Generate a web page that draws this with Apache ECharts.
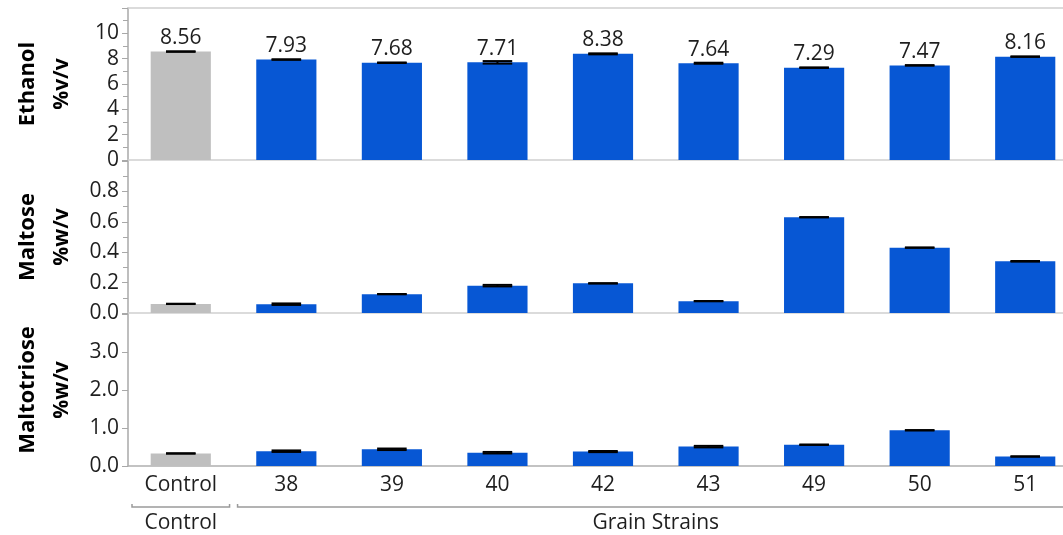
<!DOCTYPE html>
<html>
<head>
<meta charset="utf-8">
<script src="https://cdn.jsdelivr.net/npm/echarts@6/dist/echarts.min.js"></script>
<style>
  html, body { margin: 0; padding: 0; background: #fff; overflow: hidden; }
  #chart { width: 1063px; height: 535px; }
</style>
</head>
<body>
<div id="chart"></div>
<script>
// Fermentation results per strain: mean and spread for three analytes
const categories = ['Control', '38', '39', '40', '42', '43', '49', '50', '51'];

const ethanol = [8.56, 7.93, 7.68, 7.71, 8.38, 7.64, 7.29, 7.47, 8.16];
const ethanolErr = [0.02, 0.02, 0.02, 0.10, 0.04, 0.04, 0.02, 0.02, 0.02];

const maltose = [0.06, 0.058, 0.124, 0.18, 0.195, 0.078, 0.63, 0.43, 0.34];
const maltoseErr = [0.001, 0.005, 0.001, 0.005, 0.001, 0.001, 0.001, 0.001, 0.002];

const maltotriose = [0.33, 0.39, 0.44, 0.35, 0.38, 0.51, 0.56, 0.94, 0.25];
const maltotrioseErr = [0.005, 0.02, 0.02, 0.02, 0.015, 0.02, 0.005, 0.005, 0.005];

// Grouping shown beneath the category axis
const groupLabels = ['Control', 'Grain Strains'];
const groupSpans = [[0, 0], [1, 8]];

const GRAY = '#bfbfbf';
const BLUE = '#0757d4';
const TEXT = '#1e1e1e';
const FONT = '"Open Sans", "Noto Sans", sans-serif';

const chart = echarts.init(document.getElementById('chart'), null, { renderer: 'canvas' });

// Panels are wider than the canvas; the last band runs past the right edge
const gridTops = [8, 161, 314];
const gridHeight = 152;
const grids = gridTops.map(t => ({
  left: 128, width: 950, top: t, height: gridHeight,
  outerBoundsMode: 'none', containLabel: false
}));

function xAxisFor(i) {
  return {
    type: 'category',
    gridIndex: i,
    data: categories,
    axisLine: { lineStyle: { color: i === 2 ? '#b0b0b0' : '#d0d0d0', width: 1.5 } },
    axisTick: { show: false },
    axisLabel: {
      show: i === 2,
      color: TEXT,
      fontFamily: FONT,
      fontSize: 21,
      margin: 9
    }
  };
}

function yAxisFor(i, max, interval, minor, nameA, nameB, decimals) {
  return {
    type: 'value',
    gridIndex: i,
    min: 0,
    max: max,
    interval: interval,
    name: '{a|' + nameA + '}\n{b|' + nameB + '}',
    nameLocation: 'middle',
    nameRotate: 90,
    nameGap: 49,
    nameTextStyle: {
      color: '#000',
      fontFamily: FONT,
      rich: {
        a: { fontSize: 22, fontWeight: 'bold', lineHeight: 34, fontFamily: FONT, color: '#000' },
        b: { fontSize: 21, fontWeight: 'bold', lineHeight: 34, fontFamily: FONT, color: '#000' }
      }
    },
    axisLine: { show: true, lineStyle: { color: '#a8a8a8', width: 1.5 } },
    axisTick: { show: true, length: 6, lineStyle: { color: '#a8a8a8' } },
    minorTick: { show: minor, splitNumber: 2, length: 5, lineStyle: { color: '#a8a8a8' } },
    splitLine: { show: false },
    axisLabel: {
      color: TEXT,
      fontFamily: FONT,
      fontSize: 21,
      margin: 9,
      formatter: v => (Math.abs(v - max) < 1e-9 ? '' : v.toFixed(decimals))
    }
  };
}

function barSeries(i, values, withLabels) {
  return {
    type: 'bar',
    xAxisIndex: i,
    yAxisIndex: i,
    barWidth: '57%',
    data: values.map((v, k) => ({
      value: v,
      itemStyle: { color: k === 0 ? GRAY : BLUE }
    })),
    label: withLabels ? {
      show: true,
      position: 'top',
      distance: 3,
      color: TEXT,
      fontFamily: FONT,
      fontSize: 21,
      formatter: p => p.value.toFixed(2)
    } : { show: false },
    z: 2
  };
}

function errorSeries(i, values, errs) {
  return {
    type: 'custom',
    xAxisIndex: i,
    yAxisIndex: i,
    data: values.map((v, k) => [k, v - errs[k], v + errs[k]]),
    renderItem: function (params, api) {
      const x = api.value(0);
      const lo = api.coord([x, api.value(1)]);
      const hi = api.coord([x, api.value(2)]);
      const half = api.size([1, 0])[0] * 0.14;
      const style = { stroke: '#000', lineWidth: 2 };
      return {
        type: 'group',
        children: [
          { type: 'line', shape: { x1: lo[0], y1: lo[1], x2: hi[0], y2: hi[1] }, style: style },
          { type: 'line', shape: { x1: hi[0] - half, y1: hi[1], x2: hi[0] + half, y2: hi[1] }, style: style },
          { type: 'line', shape: { x1: lo[0] - half, y1: lo[1], x2: lo[0] + half, y2: lo[1] }, style: style }
        ]
      };
    },
    z: 3
  };
}

const option = {
  animation: false,
  backgroundColor: '#fff',
  grid: grids,
  xAxis: [
    xAxisFor(0), xAxisFor(1), xAxisFor(2),
    // top frame line of the first panel
    {
      type: 'category', gridIndex: 0, position: 'top', data: categories,
      axisLine: { lineStyle: { color: '#d0d0d0', width: 1.5 } },
      axisTick: { show: false }, axisLabel: { show: false }
    }
  ],
  yAxis: [
    yAxisFor(0, 12, 2, true, 'Ethanol', '%v/v', 0),
    yAxisFor(1, 1.0, 0.2, true, 'Maltose', '%w/v', 1),
    yAxisFor(2, 4, 1, false, 'Maltotriose', '%w/v', 1)
  ],
  series: [
    barSeries(0, ethanol, true),
    errorSeries(0, ethanol, ethanolErr),
    barSeries(1, maltose, false),
    errorSeries(1, maltose, maltoseErr),
    barSeries(2, maltotriose, false),
    errorSeries(2, maltotriose, maltotrioseErr)
  ]
};

chart.setOption(option);

// Group brackets and labels below the bottom category axis
(function drawGroups() {
  const p0 = chart.convertToPixel({ xAxisIndex: 2 }, 0);
  const p1 = chart.convertToPixel({ xAxisIndex: 2 }, 1);
  const band = p1 - p0;
  const axisY = chart.convertToPixel({ yAxisIndex: 2 }, 0);
  const bracketY = axisY + 41;
  const textY = axisY + 57;
  const elements = [];
  groupSpans.forEach((span, g) => {
    const left = chart.convertToPixel({ xAxisIndex: 2 }, span[0]) - band / 2 + 4;
    const right = chart.convertToPixel({ xAxisIndex: 2 }, span[1]) + band / 2 - 4;
    elements.push({
      type: 'polyline',
      shape: { points: [[left, bracketY - 3], [left, bracketY], [right, bracketY], [right, bracketY - 3]] },
      style: { stroke: '#9a9a9a', lineWidth: 1.5, fill: null },
      silent: true
    });
    elements.push({
      type: 'text',
      x: (left + right) / 2,
      y: textY,
      style: {
        text: groupLabels[g],
        fill: TEXT,
        font: '21px ' + FONT,
        align: 'center',
        verticalAlign: 'middle'
      },
      silent: true
    });
  });
  chart.setOption({ graphic: elements });
})();
</script>
</body>
</html>
